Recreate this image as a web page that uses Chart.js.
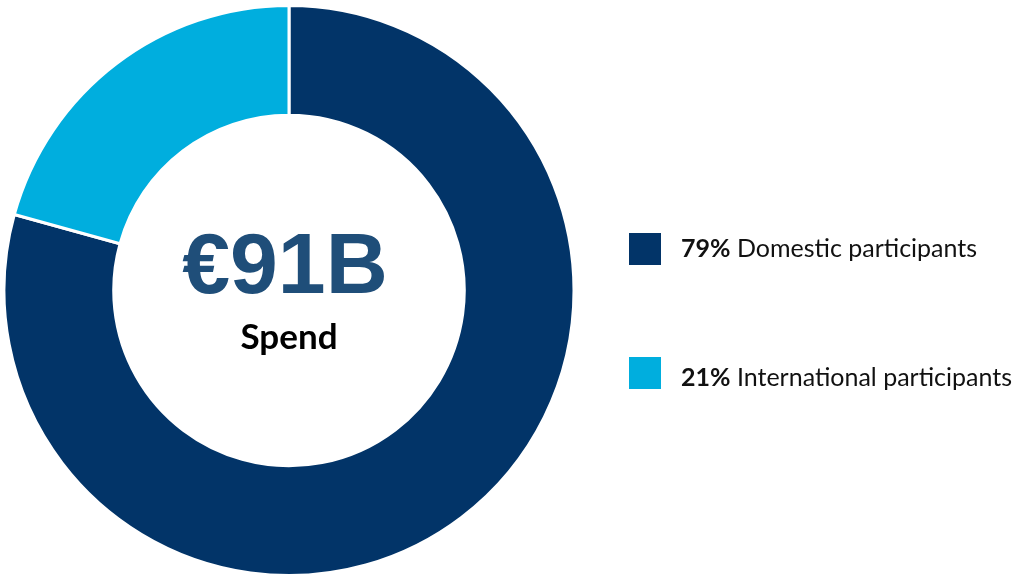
<!DOCTYPE html>
<html>
<head>
<meta charset="utf-8">
<script src="https://cdn.jsdelivr.net/npm/chart.js@4/dist/chart.umd.min.js"></script>
<style>
  html, body { margin: 0; padding: 0; background: #ffffff; }
  #wrap { position: relative; width: 1019px; height: 577px; }
</style>
</head>
<body>
<div id="wrap"><canvas id="c" width="1019" height="577"></canvas></div>
<script>
const categories = ["Domestic participants", "International participants"];
const shareLabels = ["79%", "21%"];
const shares = [79.3, 20.7];
const colors = ["#023468", "#00AEDE"];
const centerValue = "€91B";
const centerLabel = "Spend";

const centerText = {
  id: "centerText",
  afterDraw(chart) {
    const ctx = chart.ctx;
    const arc = chart.getDatasetMeta(0).data[0];
    const cx = arc.x, cy = arc.y;
    ctx.save();
    ctx.textAlign = "center";
    ctx.textBaseline = "alphabetic";
    ctx.fillStyle = "#1F4E79";
    ctx.font = "bold 86px 'Liberation Sans', Arial, sans-serif";
    ctx.fillText(centerValue, cx - 4, cy + 2.5);
    ctx.fillStyle = "#000000";
    ctx.font = "bold 35px Lato, sans-serif";
    ctx.fillText(centerLabel, cx - 0, cy + 58);
    ctx.restore();
  }
};

const sideLegend = {
  id: "sideLegend",
  afterDraw(chart) {
    const ctx = chart.ctx;
    const x0 = 629, size = 32;
    const tops = [233, 357];
    const baselines = [257, 386];
    ctx.save();
    ctx.textBaseline = "alphabetic";
    categories.forEach((name, i) => {
      const y = tops[i];
      ctx.fillStyle = colors[i];
      ctx.fillRect(x0, y, size, size);
      ctx.fillStyle = "#111111";
      ctx.font = "bold 25px Lato, sans-serif";
      const pct = shareLabels[i];
      ctx.fillText(pct, 681, baselines[i]);
      const w = ctx.measureText(pct).width;
      ctx.font = "25px Lato, sans-serif";
      ctx.fillText(" " + name, 681 + w, baselines[i]);
    });
    ctx.restore();
  }
};

new Chart(document.getElementById("c"), {
  type: "doughnut",
  data: {
    labels: categories,
    datasets: [{
      data: shares,
      backgroundColor: colors,
      borderColor: "#ffffff",
      borderWidth: 3,
      hoverOffset: 0
    }]
  },
  options: {
    responsive: false,
    animation: false,
    cutout: "61.5%",
    layout: { padding: { left: 0, right: 441, top: 4, bottom: 0 } },
    plugins: {
      legend: { display: false },
      tooltip: { enabled: false }
    }
  },
  plugins: [centerText, sideLegend]
});
</script>
</body>
</html>
